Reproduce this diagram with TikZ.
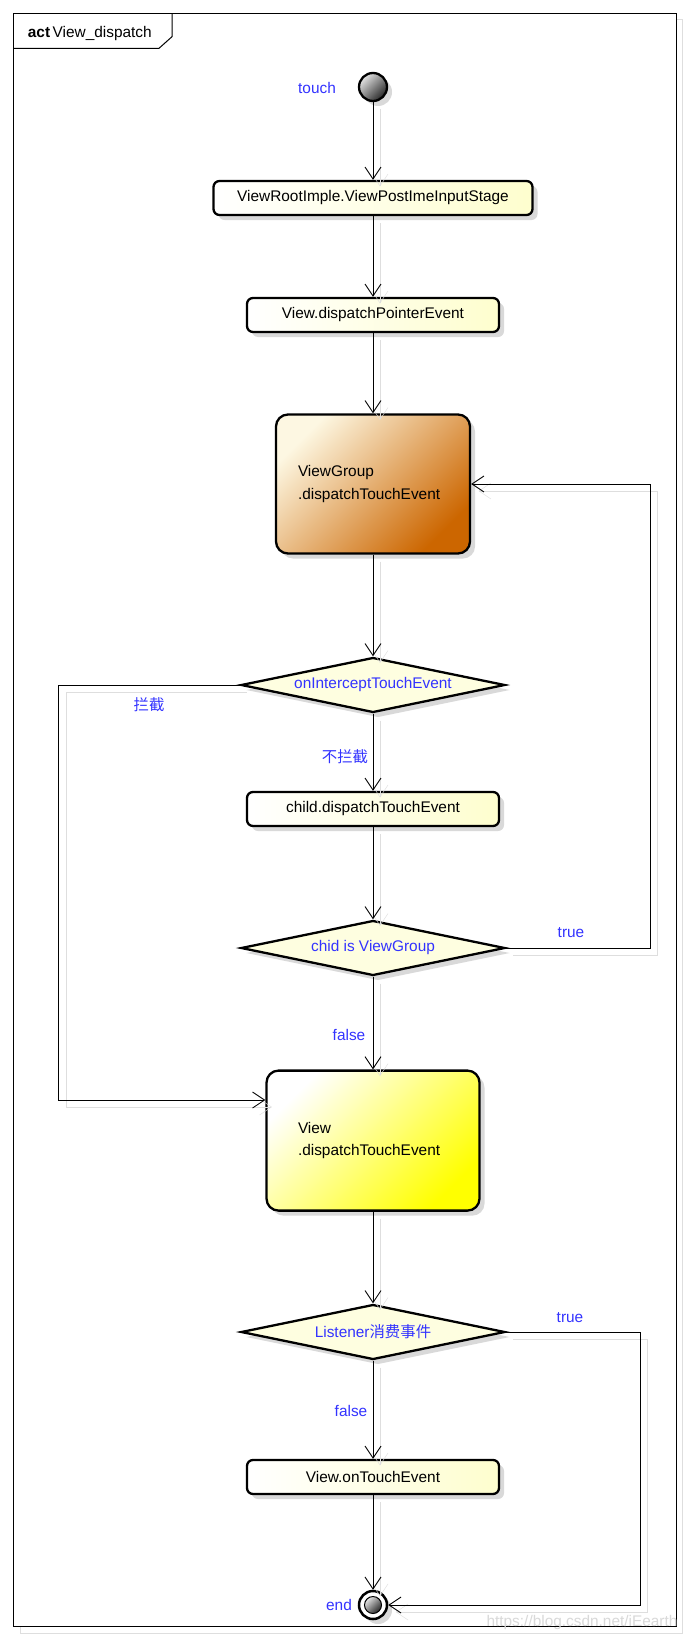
\documentclass[tikz,border=0pt]{standalone}
\usepackage{fontspec}
\setmainfont{Liberation Sans}
\newfontfamily\cjk{Noto Sans CJK SC}
\usetikzlibrary{arrows.meta,shapes.geometric,shadows,calc}
\definecolor{lblblue}{HTML}{3333FF}
\definecolor{actyellow}{HTML}{FEFECE}
\definecolor{decfill}{HTML}{FEFEE0}
\definecolor{vgdark}{HTML}{CC6600}
\definecolor{vglight}{HTML}{FDF7E2}

\begin{document}
\begin{tikzpicture}[x=1pt, y=-1pt, font=\fontsize{15.4}{22.5}\selectfont,
  shad/.style={drop shadow={shadow xshift=5pt, shadow yshift=-5pt, fill=black!15, opacity=1}},
  act/.style={shad, draw, line width=2.3pt, rounded corners=6pt, minimum height=34pt, inner sep=0pt, left color=white, right color=actyellow},
  bigact/.style={shad, draw, line width=2.3pt, rounded corners=12pt, minimum height=139pt, inner sep=0pt, text width=150pt, align=left},
  decision/.style={shad, diamond, draw, line width=2.3pt, fill=decfill, aspect=4.74, inner sep=0pt, minimum width=264pt, minimum height=55pt, text=lblblue},
  lbl/.style={text=lblblue, inner sep=0pt},
  flow/.style={line width=0.9pt, -{Straight Barb[length=12pt, width=16pt]},
    preaction={draw=black!13, transform canvas={shift={(7pt,-7pt)}}}}]
\useasboundingbox (0,0) rectangle (689,1640);
% frame
\draw[black!13, line width=1pt] (20,20) rectangle (682,1633);
\draw[line width=1pt, fill=white] (13.3,13.3) rectangle (676.7,1626.5);
\draw[line width=1pt] (13.3,48.3) -- (159,48.3) -- (172,36.7) -- (172,13.3);
\node[anchor=west, inner sep=0pt] (title) at (27.7,33.5) {\textbf{act}\,View\_dispatch};
\node[text=black!15, inner sep=0pt] (mark) at (582,1622) {https://blog.csdn.net/iEearth};

% nodes
\node[shad, circle, draw, line width=2.3pt, minimum size=28pt, inner sep=0pt, top color=black!10, bottom color=black!85, shading angle=45] (start) at (373,87) {};
\node[lbl] (touch) at (317,88) {touch};
\node[act, minimum width=319pt] (viewroot) at (373,198) {ViewRootImple.ViewPostImeInputStage};
\node[act, minimum width=252pt] (pointer) at (373,315) {View.dispatchPointerEvent};
\node[bigact, minimum width=194pt, top color=vglight, bottom color=vgdark, shading angle=45] (vgroup) at (373,484) {ViewGroup\\.dispatchTouchEvent};
\node[decision] (intercept) at (373,685) {onInterceptTouchEvent};
\node[act, minimum width=252pt] (child) at (373,809) {child.dispatchTouchEvent};
\node[decision] (isvg) at (373,948) {chid is ViewGroup};
\node[bigact, minimum width=213pt, minimum height=140pt, top color=white, bottom color=yellow, shading angle=45] (view) at (373,1140.6) {View\\.dispatchTouchEvent};
\node[decision] (listener) at (373,1332) {Listener{\cjk 消费事件}};
\node[act, minimum width=252pt] (ontouch) at (373,1477) {View.onTouchEvent};
\node[shad, circle, draw, line width=2.5pt, minimum size=28pt, inner sep=0pt, fill=white] (endring) at (373,1605) {};
\node[circle, draw, line width=1pt, minimum size=17pt, inner sep=0pt, top color=black!10, bottom color=black!85, shading angle=45] (endball) at (endring) {};
\node[lbl] (endlbl) at (339,1605) {end};

% labels
\node[lbl] (lblcut) at (149,705) {\cjk 拦截};
\node[lbl] (lblpass) at (345,757) {\cjk 不拦截};
\node[lbl] (lbltrue1) at (571,933) {true};
\node[lbl] (lblfalse1) at (349,1035) {false};
\node[lbl] (lbltrue2) at (570,1318) {true};
\node[lbl] (lblfalse2) at (351,1411) {false};

% connectors
\draw[flow] (start) -- (viewroot);
\draw[flow] (viewroot) -- (pointer);
\draw[flow] (pointer) -- (vgroup);
\draw[flow] (vgroup) -- (intercept);
\draw[flow] (intercept) -- (child);
\draw[flow] (intercept.west) -- ++(-181,0) |- ([yshift=40.6pt]view.west);
\draw[flow] (child) -- (isvg);
\draw[flow] (isvg.east) -- ++(144,0) |- (vgroup.east);
\draw[flow] (isvg) -- (view);
\draw[flow] (view) -- (listener);
\draw[flow] (listener) -- (ontouch);
\draw[flow] (listener.east) -- ++(134,0) |- (endring.east);
\draw[flow] (ontouch) -- (endring);
\end{tikzpicture}
\end{document}
